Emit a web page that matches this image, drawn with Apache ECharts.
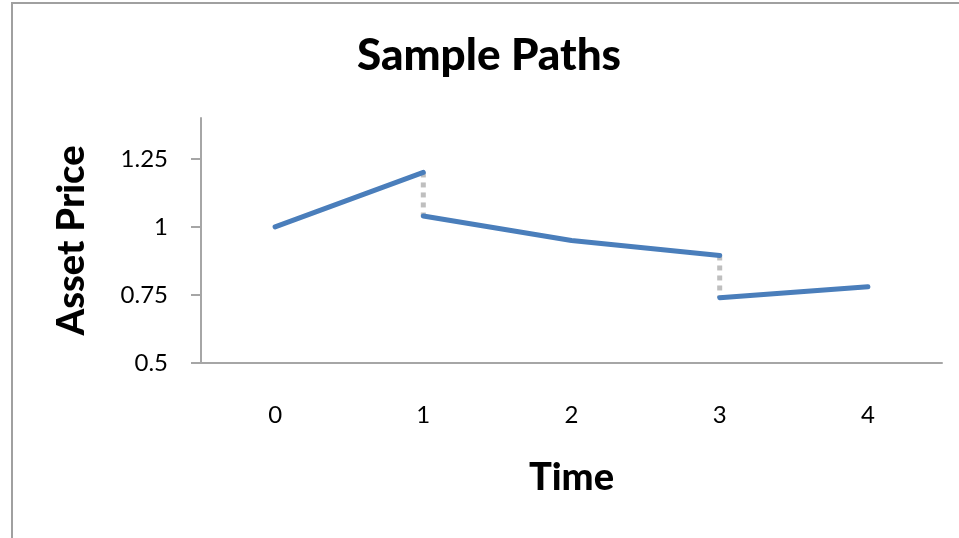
<!DOCTYPE html>
<html>
<head>
<meta charset="utf-8">
<style>
  html, body { margin: 0; padding: 0; background: #ffffff; }
  #chart { width: 959px; height: 538px; }
</style>
<script src="https://cdn.jsdelivr.net/npm/echarts@6/dist/echarts.min.js"></script>
</head>
<body>
<div id="chart"></div>
<script>
// Time steps on the x axis
const times = ['0', '1', '2', '3', '4'];
// Path before the first jump (t = 0..1)
const beforeJump1 = [1.00, 1.20];
// Path between the jumps (t = 1..3)
const betweenJumps = [1.04, 0.95, 0.895];
// Path after the second jump (t = 3..4)
const afterJump2 = [0.74, 0.78];
// Tick labels on the price axis
const priceTicks = [0.5, 0.75, 1, 1.25];

const FONT = 'Lato';
const BLUE = '#4a7ebb';
const AXIS_GREY = '#a6a6a6';

// Build [timeIndex, price] pairs starting at a given time index
function pairs(startIdx, values) {
  return values.map((v, i) => [startIdx + i, v]);
}

const seg1 = pairs(0, beforeJump1);
const seg2 = pairs(1, betweenJumps);
const seg3 = pairs(3, afterJump2);
// Vertical jumps join the end of one segment to the start of the next
const jump1 = [seg1[seg1.length - 1], seg2[0]];
const jump2 = [seg2[seg2.length - 1], seg3[0]];

const pathStyle = { color: BLUE, width: 5, cap: 'round', join: 'round' };
const jumpStyle = { color: '#bfbfbf', width: 5, type: [5, 5], cap: 'butt' };

function lineSeries(data, style, z) {
  return {
    type: 'line',
    data: data,
    showSymbol: false,
    symbol: 'none',
    lineStyle: style,
    itemStyle: { color: style.color },
    silent: true,
    animation: false,
    z: z
  };
}

const chart = echarts.init(document.getElementById('chart'), null, { renderer: 'canvas' });
chart.setOption({
  backgroundColor: '#ffffff',
  animation: false,
  title: {
    text: 'Sample Paths',
    left: 352,
    top: 29,
    textStyle: { fontFamily: FONT, fontWeight: 900, fontSize: 44, color: '#000000' }
  },
  graphic: [{
    type: 'rect',
    shape: { x: 12, y: 3, width: 980, height: 580 },
    style: { fill: 'none', stroke: '#a0a0a0', lineWidth: 2 },
    silent: true
  }],
  grid: { left: 201, right: 17, top: 118, bottom: 175, containLabel: false },
  xAxis: {
    type: 'category',
    data: times,
    boundaryGap: true,
    name: 'Time',
    nameLocation: 'middle',
    nameGap: 96,
    nameTextStyle: { fontFamily: FONT, fontWeight: 900, fontSize: 38, color: '#000000' },
    axisLine: { lineStyle: { color: AXIS_GREY, width: 2 } },
    axisTick: { show: false },
    axisLabel: { fontFamily: FONT, fontSize: 24, color: '#000000', margin: 40 },
    splitLine: { show: false }
  },
  yAxis: {
    type: 'value',
    min: 0.5,
    max: 1.4,
    interval: 0.25,
    name: 'Asset Price',
    nameLocation: 'middle',
    nameGap: 110,
    nameRotate: 90,
    nameTextStyle: { fontFamily: FONT, fontWeight: 900, fontSize: 38, color: '#000000' },
    axisLine: { show: true, lineStyle: { color: AXIS_GREY, width: 2 } },
    axisTick: { show: true, length: 10, lineStyle: { color: AXIS_GREY, width: 2 }, customValues: priceTicks },
    axisLabel: { fontFamily: FONT, fontSize: 24, color: '#000000', margin: 33, customValues: priceTicks },
    splitLine: { show: false }
  },
  series: [
    lineSeries(jump1, jumpStyle, 1),
    lineSeries(jump2, jumpStyle, 1),
    lineSeries(seg1, pathStyle, 2),
    lineSeries(seg2, pathStyle, 2),
    lineSeries(seg3, pathStyle, 2)
  ]
});
</script>
</body>
</html>
